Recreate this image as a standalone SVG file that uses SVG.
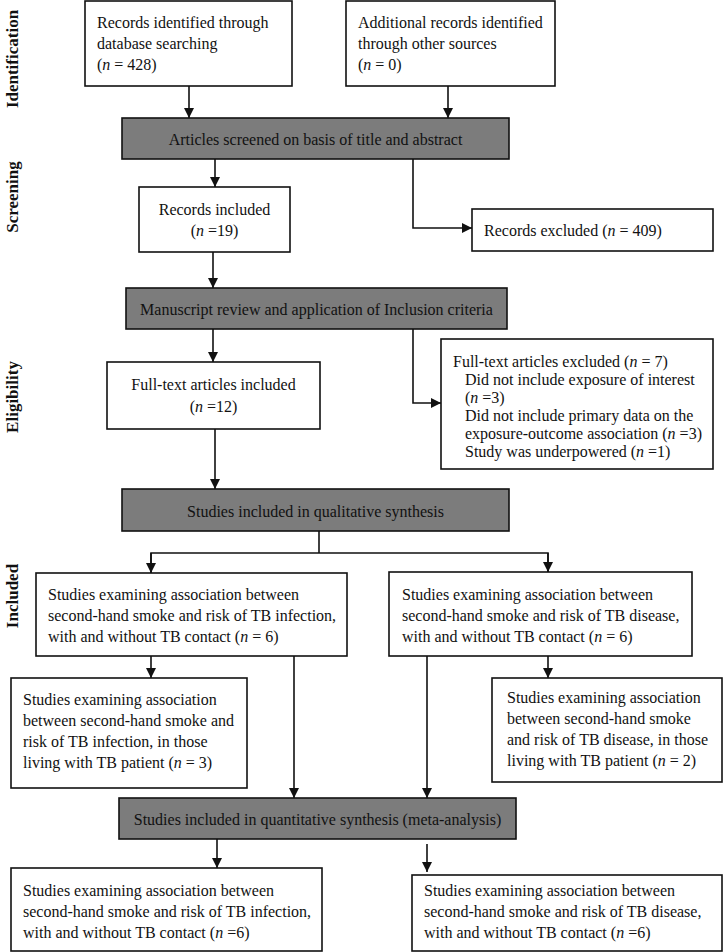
<svg xmlns="http://www.w3.org/2000/svg" width="725" height="952" viewBox="0 0 725 952">
<style>
text{font-family:"Liberation Serif","Times New Roman",serif;font-size:16px;fill:#111}
.i{font-style:italic}
.lab{font-weight:bold;font-size:17px}
.box{fill:#fff;stroke:#111;stroke-width:1.6}
.gray{fill:#7c7c7c;stroke:#111;stroke-width:1.6}
.c{text-anchor:middle}
.ln{fill:none;stroke:#111;stroke-width:1.6}
</style>
<defs>
<marker id="ah" viewBox="0 0 10 10" refX="10" refY="5" markerWidth="10" markerHeight="10" markerUnits="userSpaceOnUse" orient="auto">
<path d="M0,0 L10,5 L0,10 z" fill="#111"/>
</marker>
</defs>
<rect width="725" height="952" fill="#fff"/>

<g id="labels">
<text class="lab c" transform="translate(18,59) rotate(-90)">Identification</text>
<text class="lab c" transform="translate(18,197) rotate(-90)">Screening</text>
<text class="lab c" transform="translate(18,397) rotate(-90)">Eligibility</text>
<text class="lab c" transform="translate(18,596) rotate(-90)">Included</text>
</g>

<g id="connectors">
<line class="ln" x1="189" y1="86" x2="189" y2="118" marker-end="url(#ah)"/>
<line class="ln" x1="448" y1="86" x2="448" y2="118" marker-end="url(#ah)"/>
<line class="ln" x1="215" y1="159" x2="215" y2="187" marker-end="url(#ah)"/>
<polyline class="ln" points="413,159 413,228 472,228" marker-end="url(#ah)"/>
<line class="ln" x1="213" y1="252" x2="213" y2="288" marker-end="url(#ah)"/>
<line class="ln" x1="213" y1="329" x2="213" y2="362" marker-end="url(#ah)"/>
<polyline class="ln" points="413,329 413,403 441,403" marker-end="url(#ah)"/>
<line class="ln" x1="215" y1="429" x2="215" y2="489" marker-end="url(#ah)"/>
<line class="ln" x1="319" y1="531" x2="319" y2="553"/>
<polyline class="ln" points="151,573 151,553 548,553 548,572"/>
<line class="ln" x1="151" y1="553" x2="151" y2="573" marker-end="url(#ah)"/>
<line class="ln" x1="548" y1="553" x2="548" y2="572" marker-end="url(#ah)"/>
<line class="ln" x1="151" y1="656" x2="151" y2="678" marker-end="url(#ah)"/>
<line class="ln" x1="548" y1="656" x2="548" y2="678" marker-end="url(#ah)"/>
<line class="ln" x1="294" y1="656" x2="294" y2="798" marker-end="url(#ah)"/>
<line class="ln" x1="427" y1="656" x2="427" y2="798" marker-end="url(#ah)"/>
<line class="ln" x1="217" y1="839" x2="217" y2="868" marker-end="url(#ah)"/>
<line class="ln" x1="427" y1="844" x2="427" y2="872" marker-end="url(#ah)"/>
</g>

<g id="n1">
<rect class="box" x="85" y="1" width="207" height="85"/>
<text x="97" y="28">Records identified through</text>
<text x="97" y="49">database searching</text>
<text x="97" y="70">(<tspan class="i">n</tspan> = 428)</text>
</g>

<g id="n2">
<rect class="box" x="346" y="1" width="209" height="85"/>
<text x="358" y="28">Additional records identified</text>
<text x="358" y="49">through other sources</text>
<text x="358" y="70">(<tspan class="i">n</tspan> = 0)</text>
</g>

<g id="n3">
<rect class="gray" x="122" y="118" width="387" height="41"/>
<text class="c" x="315.5" y="145">Articles screened on basis of title and abstract</text>
</g>

<g id="n4">
<rect class="box" x="139" y="187" width="151" height="65"/>
<text class="c" x="214.5" y="215">Records included</text>
<text class="c" x="214.5" y="236">(<tspan class="i">n</tspan> =19)</text>
</g>

<g id="n5">
<rect class="box" x="472" y="209" width="241" height="42"/>
<text x="484" y="236">Records excluded  (<tspan class="i">n</tspan> = 409)</text>
</g>

<g id="n6">
<rect class="gray" x="126" y="288" width="381" height="41"/>
<text class="c" x="316.5" y="315">Manuscript review and application of Inclusion criteria</text>
</g>

<g id="n7">
<rect class="box" x="107" y="362" width="213" height="67"/>
<text class="c" x="213.5" y="390">Full-text articles included</text>
<text class="c" x="213.5" y="412">(<tspan class="i">n</tspan> =12)</text>
</g>

<g id="n8">
<rect class="box" x="441" y="339" width="272" height="130"/>
<text x="453" y="367">Full-text articles excluded (<tspan class="i">n</tspan> = 7)</text>
<text x="465" y="385">Did not include exposure of interest</text>
<text x="465" y="403">(<tspan class="i">n</tspan> =3)</text>
<text x="465" y="421">Did not include primary data on the</text>
<text x="465" y="439">exposure-outcome association (<tspan class="i">n</tspan> =3)</text>
<text x="465" y="457">Study was underpowered (<tspan class="i">n</tspan> =1)</text>
</g>

<g id="n9">
<rect class="gray" x="122" y="489" width="387" height="42"/>
<text class="c" x="315.5" y="517">Studies included in qualitative synthesis</text>
</g>

<g id="n10">
<rect class="box" x="36" y="573" width="311" height="83"/>
<text x="48" y="600">Studies examining association between</text>
<text x="48" y="621">second-hand smoke and risk of TB infection,</text>
<text x="48" y="642">with and without TB contact (<tspan class="i">n</tspan> = 6)</text>
</g>

<g id="n11">
<rect class="box" x="389" y="572" width="303" height="84"/>
<text x="402" y="600">Studies examining association between</text>
<text x="402" y="621">second-hand smoke and risk of TB disease,</text>
<text x="402" y="642">with and without TB contact  (<tspan class="i">n</tspan> = 6)</text>
</g>

<g id="n12">
<rect class="box" x="11" y="678" width="236" height="110"/>
<text x="23" y="705">Studies examining association</text>
<text x="23" y="726">between second-hand smoke and</text>
<text x="23" y="747">risk of TB infection, in those</text>
<text x="23" y="768">living with TB patient (<tspan class="i">n</tspan> = 3)</text>
</g>

<g id="n13">
<rect class="box" x="492" y="678" width="230" height="104"/>
<text x="507" y="703">Studies examining association</text>
<text x="507" y="724">between second-hand smoke</text>
<text x="507" y="745">and risk of TB disease, in those</text>
<text x="507" y="766">living with TB patient (<tspan class="i">n</tspan> = 2)</text>
</g>

<g id="n14">
<rect class="gray" x="119" y="798" width="397" height="41"/>
<text class="c" x="317.5" y="825">Studies included in quantitative synthesis (meta-analysis)</text>
</g>

<g id="n15">
<rect class="box" x="11" y="868" width="311" height="83"/>
<text x="23" y="896">Studies examining association between</text>
<text x="23" y="917">second-hand smoke and risk of TB infection,</text>
<text x="23" y="938">with and without TB contact (<tspan class="i">n</tspan> =6)</text>
</g>

<g id="n16">
<rect class="box" x="412" y="875" width="310" height="76"/>
<text x="424" y="896">Studies examining association between</text>
<text x="424" y="917">second-hand smoke and risk of TB disease,</text>
<text x="424" y="938">with and without TB contact  (<tspan class="i">n</tspan> =6)</text>
</g>
</svg>
